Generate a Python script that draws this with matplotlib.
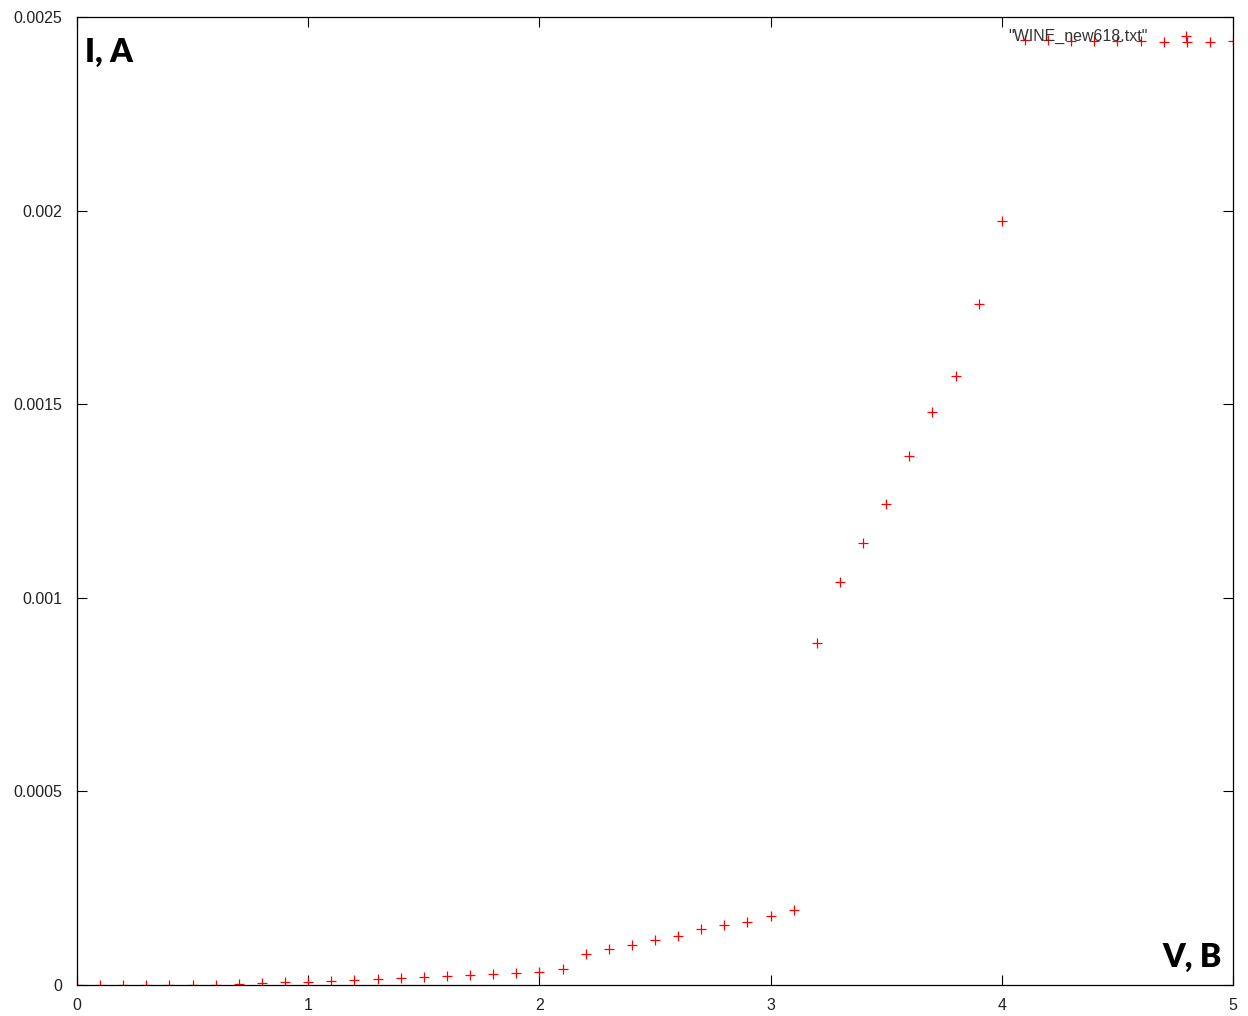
import matplotlib
matplotlib.use("Agg")
from matplotlib import pyplot as plt

# voltage (V) and current (A)
voltage = [0.0, 0.1, 0.2, 0.3, 0.4, 0.5, 0.6, 0.7, 0.8, 0.9,
           1.0, 1.1, 1.2, 1.3, 1.4, 1.5, 1.6, 1.7, 1.8, 1.9,
           2.0, 2.1, 2.2, 2.3, 2.4, 2.5, 2.6, 2.7, 2.8, 2.9,
           3.0, 3.1, 3.2, 3.3, 3.4, 3.5, 3.6, 3.7, 3.8, 3.9,
           4.0, 4.1, 4.2, 4.3, 4.4, 4.5, 4.6, 4.7, 4.8, 4.9, 5.0]
current = [0.0, 0.0, 0.0, 0.0, 0.0, 1e-6, 1e-6, 2e-6, 5e-6, 7e-6,
           8e-6, 9.5e-6, 13e-6, 16e-6, 18e-6, 20e-6, 23e-6, 26e-6, 28e-6, 30e-6,
           34e-6, 40.5e-6, 79e-6, 93e-6, 103e-6, 116e-6, 126.5e-6, 144.6e-6, 155.7e-6, 163.5e-6,
           179e-6, 194.5e-6, 884e-6, 1040e-6, 1141e-6, 1242e-6, 1366e-6, 1480e-6, 1574e-6, 1758e-6,
           1973e-6, 2440e-6, 2440e-6, 2439e-6, 2439e-6, 2439e-6, 2439e-6, 2436e-6, 2436e-6, 2435e-6, 2437e-6]

x_ticks = [0, 1, 2, 3, 4, 5]
y_ticks = [0, 0.0005, 0.001, 0.0015, 0.002, 0.0025]
y_tick_labels = ["0", "0.0005", "0.001", "0.0015", "0.002", "0.0025"]

plt.rcParams['font.family'] = ['Liberation Sans', 'DejaVu Sans']

fig = plt.figure(figsize=(12.48, 10.16), dpi=100)
ax = fig.add_axes([77 / 1248, 31 / 1016, 1156 / 1248, 968 / 1016])

ax.plot(voltage, current, '+', color='#ff0000', markersize=6.5, markeredgewidth=0.9,
        label='"WINE_new618.txt"')

ax.set_xlim(0, 5)
ax.set_ylim(0, 0.0025)
ax.set_xticks(x_ticks)
ax.set_yticks(y_ticks)
ax.set_yticklabels(y_tick_labels)
ax.tick_params(direction='in', length=7, width=0.8, top=True, right=True,
               labelsize=11.5, colors='black', labelcolor='#222222')
ax.tick_params(axis='y', pad=10.5)
ax.tick_params(axis='x', pad=9.5)
for s in ax.spines.values():
    s.set_linewidth(0.9)

ax.text(0.007, 0.978, "I, A", transform=ax.transAxes, ha='left', va='top',
        fontsize=23, fontweight='heavy', family=['Lato', 'DejaVu Sans'])
ax.text(0.9905, 0.013, "V, B", transform=ax.transAxes, ha='right', va='bottom',
        fontsize=23, fontweight='heavy', family=['Lato', 'DejaVu Sans'])

ax.legend(loc='upper right', bbox_to_anchor=(0.979, 0.994), borderaxespad=0,
          markerfirst=False, frameon=False, fontsize=11.5, handletextpad=1.4,
          labelcolor='#333333')

fig.savefig("out.png", dpi=100)
